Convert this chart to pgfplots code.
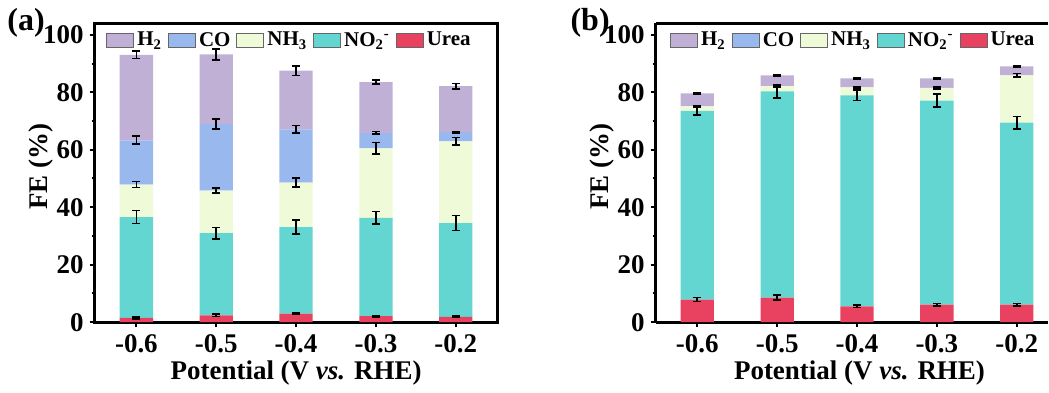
\documentclass[border=0pt]{standalone}
\usepackage{fontspec}
\setmainfont{Liberation Serif}
\usepackage{pgfplots}
\usepackage{pgfplotstable}
\pgfplotsset{compat=1.18}

\definecolor{h2col}{HTML}{C0B0D6}
\definecolor{cocol}{HTML}{99B8EE}
\definecolor{nh3col}{HTML}{EEFAD8}
\definecolor{no2col}{HTML}{64D6D2}
\definecolor{ureacol}{HTML}{E84260}

% Faradaic efficiency of each product (stacked share) and its error
\pgfplotstableread{
x urea eurea no2  eno2 nh3  enh3 co   eco  h2   eh2
0 1.5  0.3   35.1 2.3  11.3 1.05 15.4 1.4  29.7 1.3
1 2.4  0.4   28.6 2.0  14.8 0.8  23.1 1.75 24.3 1.9
2 3.0  0.3   30.1 2.45 15.5 1.5  18.5 1.3  20.4 1.7
3 2.1  0.25  34.2 2.2  24.2 2.0  5.4  0.45 17.6 0.75
4 1.9  0.2   32.6 2.6  28.4 1.35 3.2  0.2  16.0 0.9
}\dataA

\pgfplotstableread{
x urea eurea no2  eno2 nh3  enh3 h2  eh2
0 7.9  0.7   65.6 1.4  1.6  0.3  4.5 0.2
1 8.6  0.8   71.7 2.2  1.8  0.3  3.8 0.2
2 5.5  0.4   73.4 1.8  2.8  0.3  3.1 0.2
3 6.1  0.4   71.0 2.3  4.4  0.3  3.3 0.2
4 6.1  0.4   63.3 2.2  16.5 0.6  3.1 0.2
}\dataB

\pgfplotsset{
  legbox/.style={legend image code/.code={%
      \draw[##1, draw=black!60, line width=0.5pt] (0pt,-3.6pt) rectangle (13.5pt,3.6pt);}},
  fepanel/.style={
    scale only axis, width=201.5pt, height=149.7pt,
    xmin=-0.52, xmax=4.52, ymin=0, ymax=104,
    ybar stacked, bar width=0.417,
    xtick={0,1,2,3,4}, xticklabels={-0.6,-0.5,-0.4,-0.3,-0.2},
    ytick={0,20,40,60,80,100}, minor ytick={10,30,50,70,90},
    tick align=outside, xtick pos=bottom, ytick pos=left,
    major tick length=2.6pt, minor tick length=1.6pt,
    every tick/.style={black, line width=1pt},
    axis line style={line width=1.5pt},
    tick label style={font=\bfseries\fontsize{13.5}{15}\selectfont},
    yticklabel style={xshift=0.5pt},
    /pgf/number format/assume math mode=true,
    label style={font=\bfseries\fontsize{13.5}{16}\selectfont},
    xlabel={Potential (V \textit{vs.} RHE)},
    ylabel={FE (\%)},
    x label style={at={(axis description cs:0.5,0)}, anchor=base, yshift=-28.9pt},
    y label style={at={(axis description cs:-0.118,0.52)}, anchor=base},
    legend columns=-1,
    legend style={at={(axis description cs:0.485,0.995)}, anchor=north,
      draw=none, fill=none, font=\bfseries\fontsize{10.5}{12}\selectfont,
      nodes={inner sep=1.5pt},
      /tikz/every even column/.append style={column sep=1.5pt}},
    error bars/error bar style={line width=0.85pt, black},
    error bars/error mark options={rotate=90, mark size=2pt, line width=0.85pt, black},
  },
  errs/.style={error bars/.cd, y dir=both, y explicit},
}

\begin{document}
\begin{tikzpicture}
% page extent
\path (0,0) rectangle (524.5pt,192.5pt);

% (a)
\begin{axis}[fepanel, at={(47.5pt,31.15pt)}, anchor=south west]
  \addlegendimage{legbox, fill=h2col}\addlegendentry{H\textsubscript{2}}
  \addlegendimage{legbox, fill=cocol}\addlegendentry{CO}
  \addlegendimage{legbox, fill=nh3col}\addlegendentry{NH\textsubscript{3}}
  \addlegendimage{legbox, fill=no2col}\addlegendentry{NO\textsubscript{2}\textsuperscript{-}}
  \addlegendimage{legbox, fill=ureacol}\addlegendentry{Urea}
  \addplot[fill=ureacol, draw=none, forget plot, errs] table[x=x, y=urea, y error=eurea] {\dataA};
  \addplot[fill=no2col, draw=none, forget plot, errs] table[x=x, y=no2, y error=eno2] {\dataA};
  \addplot[fill=nh3col, draw=none, forget plot, errs] table[x=x, y=nh3, y error=enh3] {\dataA};
  \addplot[fill=cocol, draw=none, forget plot, errs] table[x=x, y=co, y error=eco] {\dataA};
  \addplot[fill=h2col, draw=none, forget plot, errs] table[x=x, y=h2, y error=eh2] {\dataA};
\end{axis}
\node[anchor=base west, inner sep=0, font=\bfseries\fontsize{16}{18}\selectfont] at (3.5pt,177pt) {(a)};

% (b): the frame runs on past the right page edge, so no right spine is drawn
\begin{axis}[fepanel, at={(328.35pt,31.15pt)}, anchor=south west,
    width=196.15pt, xmax=4.386,
    axis x line*=box, axis y line*=left,
    legend style={at={(axis description cs:0.5055,0.995)}},
    x label style={at={(axis description cs:0.52,0)}},
    y label style={at={(axis description cs:-0.121,0.52)}}]
  \addlegendimage{legbox, fill=h2col}\addlegendentry{H\textsubscript{2}}
  \addlegendimage{legbox, fill=cocol}\addlegendentry{CO}
  \addlegendimage{legbox, fill=nh3col}\addlegendentry{NH\textsubscript{3}}
  \addlegendimage{legbox, fill=no2col}\addlegendentry{NO\textsubscript{2}\textsuperscript{-}}
  \addlegendimage{legbox, fill=ureacol}\addlegendentry{Urea}
  \addplot[fill=ureacol, draw=none, forget plot, errs] table[x=x, y=urea, y error=eurea] {\dataB};
  \addplot[fill=no2col, draw=none, forget plot, errs] table[x=x, y=no2, y error=eno2] {\dataB};
  \addplot[fill=nh3col, draw=none, forget plot, errs] table[x=x, y=nh3, y error=enh3] {\dataB};
  \addplot[fill=h2col, draw=none, forget plot, errs] table[x=x, y=h2, y error=eh2] {\dataB};
\end{axis}
\node[anchor=base west, inner sep=0, font=\bfseries\fontsize{16}{18}\selectfont] at (285.5pt,177pt) {(b)};
\end{tikzpicture}
\end{document}
